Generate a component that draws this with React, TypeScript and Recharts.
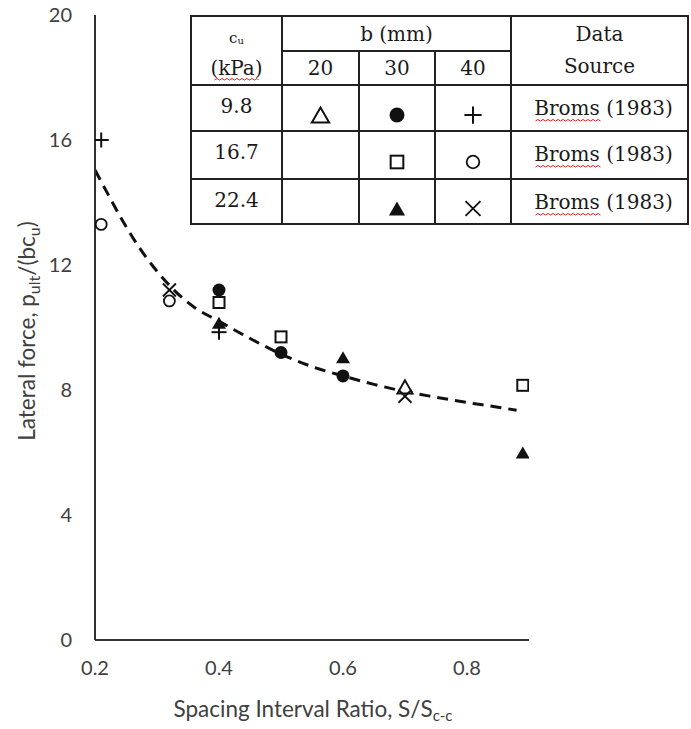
import React from 'react';
import { ComposedChart, Line, Scatter, XAxis, YAxis } from 'recharts';

const xTicks = [0.2, 0.4, 0.6, 0.8];
const yTicks = [0, 4, 8, 12, 16, 20];

// Broms (1983) test points, grouped by c_u (kPa) and pile width b (mm)
const cu98b20 = [{ x: 0.7, y: 8.1 }];
const cu98b30 = [{ x: 0.4, y: 11.2 }, { x: 0.5, y: 9.2 }, { x: 0.6, y: 8.45 }];
const cu98b40 = [{ x: 0.21, y: 16.0 }, { x: 0.4, y: 9.85 }];
const cu167b30 = [{ x: 0.4, y: 10.8 }, { x: 0.5, y: 9.7 }, { x: 0.89, y: 8.15 }];
const cu167b40 = [{ x: 0.21, y: 13.3 }, { x: 0.32, y: 10.85 }];
const cu224b30 = [{ x: 0.4, y: 10.15 }, { x: 0.6, y: 9.05 }, { x: 0.89, y: 6.0 }];
const cu224b40 = [{ x: 0.32, y: 11.2 }, { x: 0.7, y: 7.8 }];

// fitted trend curve
const trendX = [0.2, 0.22, 0.245, 0.27, 0.3, 0.33, 0.36, 0.4, 0.45, 0.5, 0.55, 0.6, 0.65, 0.7, 0.75, 0.8, 0.85, 0.88];
const trendY = [15.04, 14.3, 13.4, 12.6, 11.8, 11.15, 10.65, 10.2, 9.65, 9.15, 8.75, 8.45, 8.18, 7.95, 7.77, 7.6, 7.45, 7.35];
const trend = trendX.map((x, i) => ({ x, y: trendY[i] }));

const tableRows = ['9.8', '16.7', '22.4'];
const widths = ['20', '30', '40'];

const INK = '#111';
const AXIS_TEXT = '#404040';
const SANS = 'Lato, "Open Sans", sans-serif';
const SERIF = '"DejaVu Serif", "Liberation Serif", serif';

type Kind = 'openTri' | 'dot' | 'plus' | 'square' | 'ring' | 'tri' | 'cross';

const Marker = ({ kind, cx, cy, k = 1 }: { kind: Kind; cx: number; cy: number; k?: number }) => {
    switch (kind) {
        case 'openTri': {
            const h = 13 * k, w = 15 * k;
            return <path d={`M${cx},${cy - h / 2} L${cx + w / 2},${cy + h / 2} L${cx - w / 2},${cy + h / 2} Z`} fill="#fff" stroke={INK} strokeWidth={2} />;
        }
        case 'tri': {
            const h = 12 * k, w = 14 * k;
            return <path d={`M${cx},${cy - h / 2} L${cx + w / 2},${cy + h / 2} L${cx - w / 2},${cy + h / 2} Z`} fill={INK} />;
        }
        case 'dot':
            return <circle cx={cx} cy={cy} r={6.5 * k} fill={INK} />;
        case 'ring':
            return <circle cx={cx} cy={cy} r={5.5 * k} fill="none" stroke={INK} strokeWidth={1.8} />;
        case 'square': {
            const s = 11 * k;
            return <rect x={cx - s / 2} y={cy - s / 2} width={s} height={s} fill="#fff" stroke={INK} strokeWidth={2} />;
        }
        case 'plus': {
            const s = 7.5 * k;
            return (
                <g stroke={INK} strokeWidth={2}>
                    <line x1={cx - s} y1={cy} x2={cx + s} y2={cy} />
                    <line x1={cx} y1={cy - s} x2={cx} y2={cy + s} />
                </g>
            );
        }
        case 'cross': {
            const s = 6.5 * k;
            return (
                <g stroke={INK} strokeWidth={1.8}>
                    <line x1={cx - s} y1={cy - s} x2={cx + s} y2={cy + s} />
                    <line x1={cx - s} y1={cy + s} x2={cx + s} y2={cy - s} />
                </g>
            );
        }
    }
    return null;
};

const shapeOf = (kind: Kind) => (p: any) => <Marker kind={kind} cx={p.cx} cy={p.cy} />;

// red spell-check squiggle under a word
const Squiggle = ({ x1, x2, y }: { x1: number; x2: number; y: number }) => {
    let d = `M${x1},${y}`;
    for (let x = x1, up = true; x < x2; x += 2.5, up = !up) {
        d += ` L${Math.min(x + 2.5, x2)},${up ? y - 1.5 : y}`;
    }
    return <path d={d} fill="none" stroke="#e02020" strokeWidth={1} />;
};

const colX = [191, 282, 359, 435, 511, 688];
const rowY = [16, 51, 85, 131, 179, 224];

const LegendTable = () => {
    const cellSymbols: [number, number, Kind][] = [
        [0, 1, 'openTri'], [0, 2, 'dot'], [0, 3, 'plus'],
        [1, 2, 'square'], [1, 3, 'ring'],
        [2, 2, 'tri'], [2, 3, 'cross'],
    ];
    const cx = (c: number) => (colX[c] + colX[c + 1]) / 2;
    const rowMid = (r: number) => (rowY[r + 2] + rowY[r + 3]) / 2;
    return (
        <svg width={691} height={729} style={{ position: 'absolute', left: 0, top: 0, pointerEvents: 'none' }}>
            <rect x={colX[0]} y={rowY[0]} width={colX[5] - colX[0]} height={rowY[5] - rowY[0]} fill="#fff" />
            <g stroke="#222" strokeWidth={2}>
                <rect x={colX[0]} y={rowY[0]} width={colX[5] - colX[0]} height={rowY[5] - rowY[0]} fill="none" />
                <line x1={colX[1]} y1={rowY[1]} x2={colX[4]} y2={rowY[1]} />
                {[2, 3, 4].map((r) => <line key={r} x1={colX[0]} y1={rowY[r]} x2={colX[5]} y2={rowY[r]} />)}
                {[1, 4].map((c) => <line key={c} x1={colX[c]} y1={rowY[0]} x2={colX[c]} y2={rowY[5]} />)}
                {[2, 3].map((c) => <line key={c} x1={colX[c]} y1={rowY[1]} x2={colX[c]} y2={rowY[5]} />)}
            </g>
            <g fontFamily={SERIF} fontSize={20} fill="#1a1a1a" textAnchor="middle">
                <text x={cx(0)} y={43} fontSize={15}>c<tspan fontSize={10} dy={1}>u</tspan></text>
                <text x={cx(0)} y={75}>(kPa)</text>
                <Squiggle x1={cx(0) - 22} x2={cx(0) + 22} y={80} />
                <text x={(colX[1] + colX[4]) / 2} y={41}>b (mm)</text>
                {widths.map((w, i) => <text key={w} x={cx(i + 1)} y={75}>{w}</text>)}
                <text x={cx(4)} y={41}>Data</text>
                <text x={cx(4)} y={73}>Source</text>
                {tableRows.map((v, r) => (
                    <g key={v}>
                        <text x={cx(0)} y={rowY[r + 2] + 28}>{v}</text>
                        <text x={cx(4) + 4} y={rowY[r + 2] + 30}>Broms (1983)</text>
                        <Squiggle x1={cx(4) - 64} x2={cx(4) + 1} y={rowY[r + 2] + 36} />
                    </g>
                ))}
            </g>
            {cellSymbols.map(([r, c, kind]) => (
                <Marker key={`${r}-${c}`} kind={kind} cx={cx(c)} cy={rowMid(r) + 7} k={1.15} />
            ))}
        </svg>
    );
};

const App: React.FC = () => {
    return (
        <div style={{ position: 'absolute', left: 0, top: 0, width: 691, height: 729, background: '#fff' }}>
            <ComposedChart width={691} height={729} margin={{ top: 15, right: 162, left: 0, bottom: 0 }}>
                <XAxis
                    type="number"
                    dataKey="x"
                    domain={[0.2, 0.9]}
                    ticks={xTicks}
                    allowDataOverflow
                    height={89}
                    tickLine={false}
                    tickSize={0}
                    tickMargin={21}
                    axisLine={{ stroke: '#333', strokeWidth: 2 }}
                    tick={{ fill: AXIS_TEXT, fontSize: 20, fontFamily: SANS }}
                    tickFormatter={(v: number) => v.toFixed(1)}
                />
                <YAxis
                    type="number"
                    dataKey="y"
                    domain={[0, 20]}
                    ticks={yTicks}
                    width={95}
                    tickLine={false}
                    tickSize={0}
                    tickMargin={23}
                    axisLine={{ stroke: '#333', strokeWidth: 2 }}
                    tick={{ fill: AXIS_TEXT, fontSize: 20, fontFamily: SANS }}
                />
                <Line data={trend} dataKey="y" type="monotone" stroke={INK} strokeWidth={3} strokeDasharray="11 7" dot={false} isAnimationActive={false} />
                <Scatter data={cu98b20} dataKey="y" shape={shapeOf('openTri')} isAnimationActive={false} />
                <Scatter data={cu98b30} dataKey="y" shape={shapeOf('dot')} isAnimationActive={false} />
                <Scatter data={cu98b40} dataKey="y" shape={shapeOf('plus')} isAnimationActive={false} />
                <Scatter data={cu167b30} dataKey="y" shape={shapeOf('square')} isAnimationActive={false} />
                <Scatter data={cu167b40} dataKey="y" shape={shapeOf('ring')} isAnimationActive={false} />
                <Scatter data={cu224b30} dataKey="y" shape={shapeOf('tri')} isAnimationActive={false} />
                <Scatter data={cu224b40} dataKey="y" shape={shapeOf('cross')} isAnimationActive={false} />
            </ComposedChart>
            <svg width={691} height={729} style={{ position: 'absolute', left: 0, top: 0, pointerEvents: 'none' }}>
                <g fontFamily={SANS} fontSize={22.5} fill={AXIS_TEXT}>
                    <text x={313} y={717} textAnchor="middle">
                        Spacing Interval Ratio, S/S<tspan fontSize={15} dy={4}>c-c</tspan>
                    </text>
                    <text transform="translate(35,331) rotate(-90)" textAnchor="middle">
                        Lateral force, p<tspan fontSize={16} dy={5}>ult</tspan>
                        <tspan dy={-5}>/(bc</tspan><tspan fontSize={16} dy={5}>u</tspan><tspan dy={-5}>)</tspan>
                    </text>
                </g>
            </svg>
            <LegendTable />
        </div>
    );
};

export default App;
